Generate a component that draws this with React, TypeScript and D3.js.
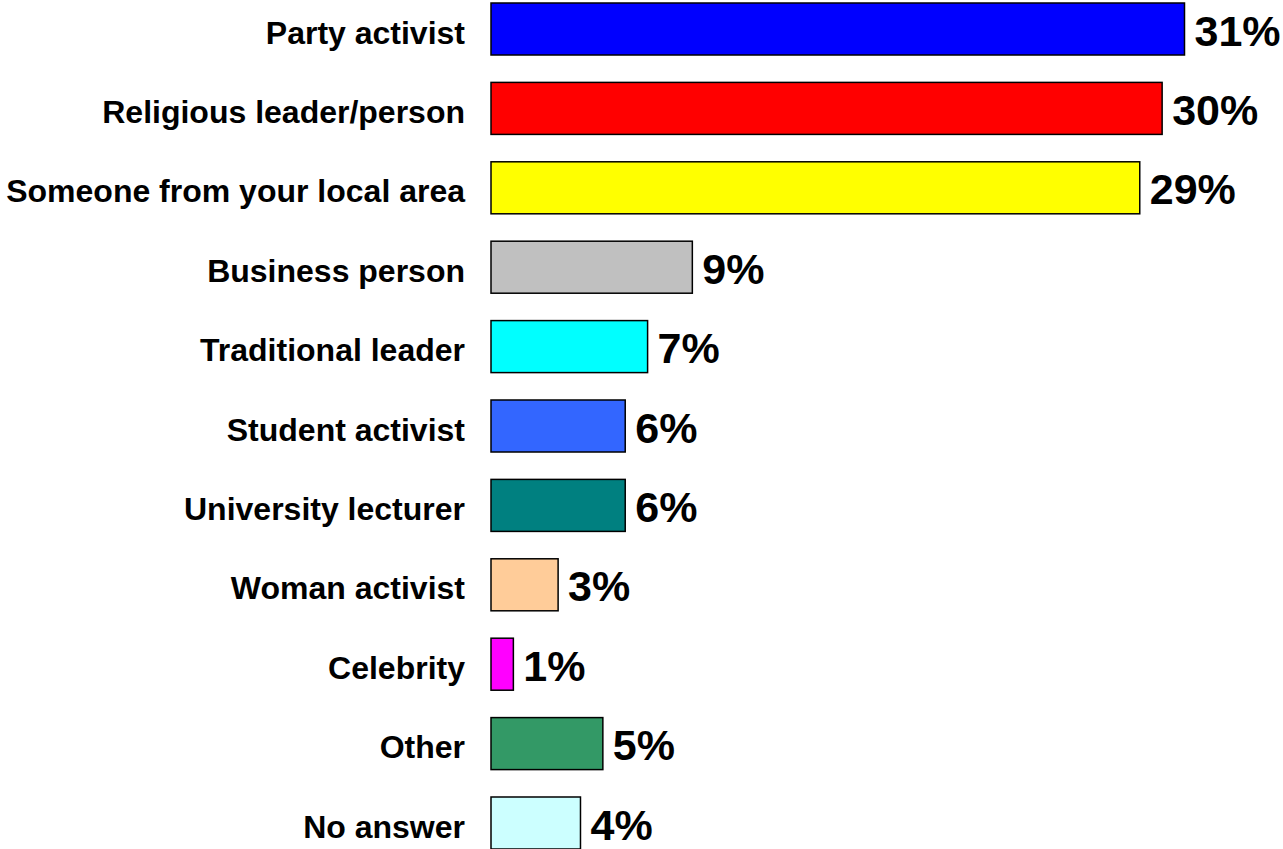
import React from "react";
import * as d3 from "d3";

const categories = [
  "Party activist",
  "Religious leader/person",
  "Someone from your local area",
  "Business person",
  "Traditional leader",
  "Student activist",
  "University lecturer",
  "Woman activist",
  "Celebrity",
  "Other",
  "No answer",
];
const values = [31, 30, 29, 9, 7, 6, 6, 3, 1, 5, 4];
const colors = [
  "#0000FF",
  "#FF0000",
  "#FFFF00",
  "#C0C0C0",
  "#00FFFF",
  "#3366FF",
  "#008080",
  "#FFCC99",
  "#FF00FF",
  "#339966",
  "#CCFFFF",
];

const W = 1283;
const H = 849;

export default function App() {
  const x = d3.scaleLinear().domain([0, 31]).range([491, 1184.5]);
  const y = d3
    .scaleBand<string>()
    .domain(categories)
    .range([-10.7, 862.7])
    .paddingInner(0.345)
    .paddingOuter(0.1725);
  const bw = y.bandwidth();
  const font = "Arial, 'Liberation Sans', Helvetica, sans-serif";
  return (
    <svg
      width={W}
      height={H}
      style={{ position: "absolute", left: 0, top: 0, background: "#fff" }}
    >
      {categories.map((c, i) => {
        const y0 = y(c)!;
        const cy = y0 + bw / 2;
        return (
          <g key={c}>
            <rect
              x={x(0)}
              y={y0}
              width={x(values[i]) - x(0)}
              height={bw}
              fill={colors[i]}
              stroke="#000"
              strokeWidth={1.5}
            />
            <text
              x={465}
              y={cy + 14.5}
              textAnchor="end"
              fontFamily={font}
              fontWeight="bold"
              fontSize={32}
              fill="#000"
            >
              {c}
            </text>
            <text
              x={x(values[i]) + 10}
              y={cy + 16.5}
              textAnchor="start"
              fontFamily={font}
              fontWeight="bold"
              fontSize={43}
              fill="#000"
            >
              {values[i]}%
            </text>
          </g>
        );
      })}
    </svg>
  );
}
